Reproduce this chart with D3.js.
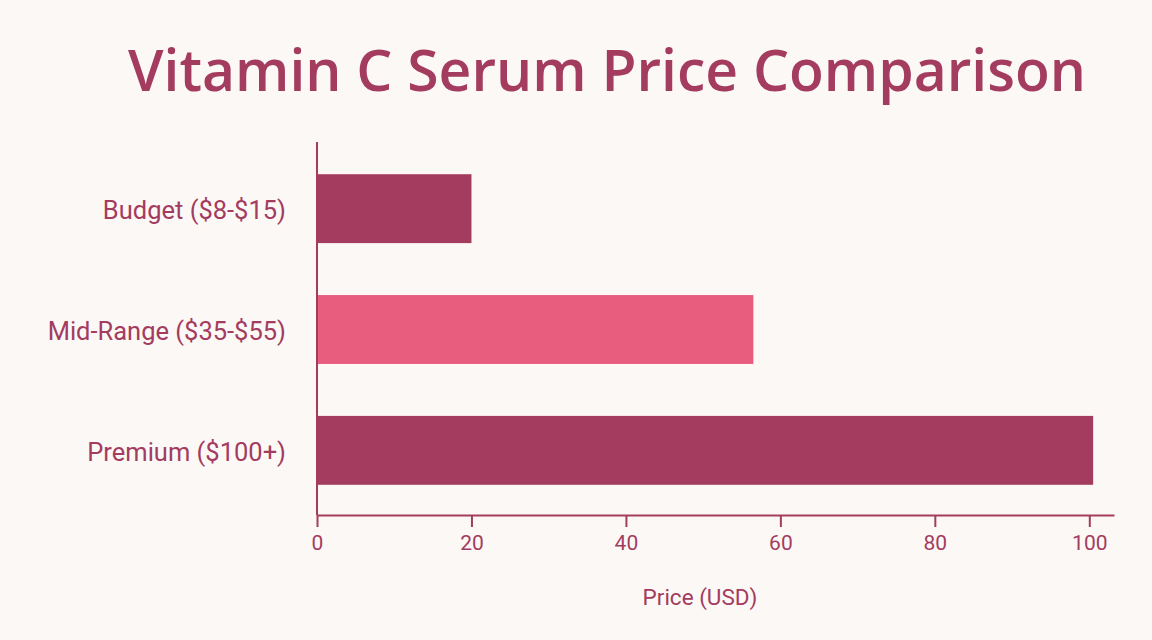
<!DOCTYPE html>
<html lang="en">
<head>
<meta charset="utf-8">
<title>Vitamin C Serum Price Comparison</title>
<script src="https://cdnjs.cloudflare.com/ajax/libs/d3/7.8.5/d3.min.js"></script>
<style>
  html, body { margin: 0; padding: 0; background: #fcf8f6; }
  svg { display: block; }
  .title { font-family: "Open Sans", Lato, sans-serif; font-weight: 600; }
  .lbl { font-family: Roboto, "Noto Sans", sans-serif; }
</style>
</head>
<body>
<svg id="chart" width="1152" height="640"></svg>
<script>
// data
const tiers = ["Budget ($8-$15)", "Mid-Range ($35-$55)", "Premium ($100+)"]
const prices = [20, 56.5, 100.5]
const barColors = ["#a33c5f", "#e85c7d", "#a33c5f"]
const xTicks = [0, 20, 40, 60, 80, 100]

const ink = "#a33c5f"
const svg = d3.select("#chart")

const x = d3.scaleLinear().domain([0, 103.2]).range([317, 1114])
const y = d3.scaleBand().domain(tiers).range([144, 515])
  .paddingInner(0.43).paddingOuter(0.25)

svg.append("text")
  .attr("class", "title")
  .attr("x", 607)
  .attr("y", 91)
  .attr("text-anchor", "middle")
  .attr("font-size", 57)
  .attr("fill", ink)
  .text("Vitamin C Serum Price Comparison")

// bars
svg.append("g")
  .selectAll("rect")
  .data(tiers)
  .enter()
  .append("rect")
  .attr("x", x(0))
  .attr("y", d => y(d))
  .attr("width", (d, i) => x(prices[i]) - x(0))
  .attr("height", y.bandwidth())
  .attr("fill", (d, i) => barColors[i])

// x axis
const xAxis = svg.append("g")
  .attr("transform", "translate(0,515)")
  .call(d3.axisBottom(x).tickValues(xTicks).tickSize(12).tickPadding(8).tickSizeOuter(0))
xAxis.select(".domain").attr("stroke", ink).attr("stroke-width", 2)
xAxis.selectAll(".tick line").attr("stroke", ink).attr("stroke-width", 2)
xAxis.selectAll(".tick text")
  .attr("class", "lbl")
  .attr("font-size", 21)
  .attr("fill", ink)

// y axis: plain line, no ticks
const yAxis = svg.append("g")
  .attr("transform", "translate(317,0)")
  .call(d3.axisLeft(y).tickSize(0).tickPadding(31))
yAxis.select(".domain").attr("stroke", ink).attr("stroke-width", 2)
  .attr("d", "M0,142V515")
yAxis.selectAll(".tick text")
  .attr("class", "lbl")
  .attr("font-size", 25.5)
  .attr("dy", "0.42em")
  .attr("fill", ink)

svg.append("text")
  .attr("class", "lbl")
  .attr("x", 700)
  .attr("y", 605)
  .attr("text-anchor", "middle")
  .attr("font-size", 22.5)
  .attr("fill", ink)
  .text("Price (USD)")
</script>
</body>
</html>
